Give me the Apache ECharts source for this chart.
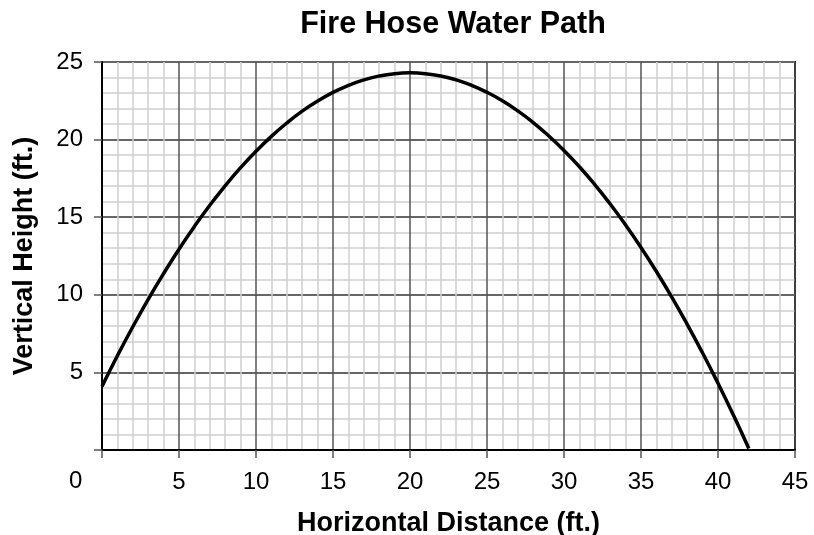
<!DOCTYPE html>
<html>
<head>
<meta charset="utf-8">
<script src="https://cdn.jsdelivr.net/npm/echarts@6/dist/echarts.min.js"></script>
<style>
  html, body { margin: 0; padding: 0; background: #fff; }
  #main { width: 814px; height: 535px; }
</style>
</head>
<body>
<div id="main"></div>
<script>
// horizontal distance (ft.) and vertical height (ft.)
const distance = [0, 1, 2, 3, 4, 5, 6, 7, 8, 9, 10, 11, 12, 13, 14, 15, 16, 17, 18, 19, 20,
  21, 22, 23, 24, 25, 26, 27, 28, 29, 30, 31, 32, 33, 34, 35, 36, 37, 38, 39, 40, 41, 42];
const height = [4.1, 6.07, 7.94, 9.71, 11.37, 12.94, 14.4, 15.77, 17.03, 18.19, 19.25, 20.21,
  21.07, 21.83, 22.48, 23.04, 23.49, 23.85, 24.1, 24.25, 24.3, 24.25, 24.1, 23.85, 23.5, 23.05,
  22.5, 21.85, 21.1, 20.25, 19.3, 18.25, 17.1, 15.85, 14.5, 13.05, 11.5, 9.85, 8.1, 6.25, 4.3,
  2.25, 0.1];

const font = 'Liberation Sans, Arial, sans-serif';

const chart = echarts.init(document.getElementById('main'));

const points = distance.map((d, i) => [d, height[i]]);

chart.setOption({
  backgroundColor: '#fff',
  animation: false,
  title: {
    text: 'Fire Hose Water Path',
    left: 448,
    textAlign: 'center',
    top: 4,
    textStyle: { fontFamily: font, fontSize: 30.5, fontWeight: 'bold', color: '#000' }
  },
  grid: {
    left: 102, right: 19, top: 62, bottom: 85,
    outerBoundsMode: 'none',
    containLabel: false,
    show: true, borderColor: '#000', borderWidth: 2
  },
  xAxis: {
    type: 'value',
    min: 0, max: 45, interval: 5,
    name: 'Horizontal Distance (ft.)',
    nameLocation: 'middle',
    nameGap: 60,
    nameTextStyle: { fontFamily: font, fontSize: 27, fontWeight: 'bold', color: '#000' },
    axisLine: { lineStyle: { color: '#000', width: 2 } },
    axisTick: { show: true, length: 8, lineStyle: { color: '#555', width: 1.5 } },
    axisLabel: {
      margin: 20,
      fontFamily: font, fontSize: 24, color: '#000',
      formatter: v => (v === 0 ? '' : String(v))
    },
    splitLine: { lineStyle: { color: '#555', width: 1.5 } },
    minorTick: { show: false, splitNumber: 5 },
    minorSplitLine: { show: true, lineStyle: { color: '#cfcfcf', width: 1.5 } }
  },
  yAxis: {
    type: 'value',
    min: 0, max: 25, interval: 5,
    name: 'Vertical Height (ft.)',
    nameLocation: 'middle',
    nameGap: 64,
    nameTextStyle: { fontFamily: font, fontSize: 27, fontWeight: 'bold', color: '#000' },
    axisLine: { show: true, lineStyle: { color: '#000', width: 2 } },
    axisTick: { show: true, length: 8, lineStyle: { color: '#555', width: 1.5 } },
    axisLabel: {
      margin: 19,
      fontFamily: font, fontSize: 24, color: '#000',
      formatter: v => (v === 0 ? '' : String(v))
    },
    splitLine: { lineStyle: { color: '#666', width: 2 } },
    minorTick: { show: false, splitNumber: 5 },
    minorSplitLine: { show: true, lineStyle: { color: '#cfcfcf', width: 1.5 } }
  },
  series: [{
    type: 'line',
    data: points,
    smooth: true,
    symbol: 'none',
    lineStyle: { color: '#000', width: 3.5 },
    z: 5
  }]
});

// the lone "0" sits at the corner, left of the plot, on the x-label row
chart.setOption({
  graphic: [{
    type: 'text',
    left: 69,
    top: 469,
    style: { text: '0', font: '24px ' + font, fill: '#000' }
  }]
});
</script>
</body>
</html>
